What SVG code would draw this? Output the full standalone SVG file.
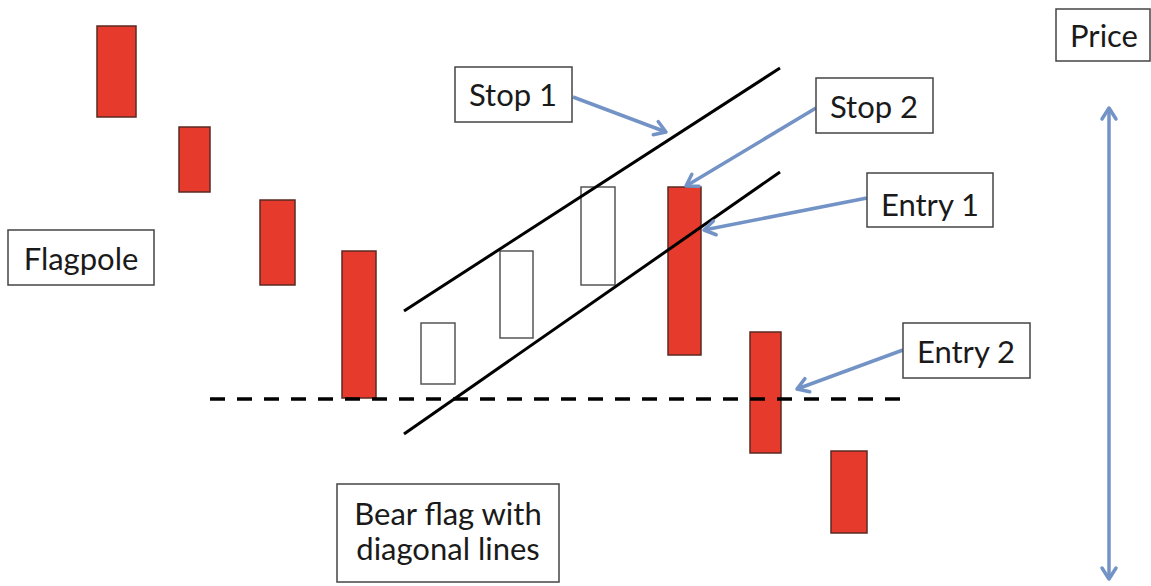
<svg xmlns="http://www.w3.org/2000/svg" width="1151" height="586" viewBox="0 0 1151 586">
<style>
.red{fill:#e63a2c;stroke:#5a2a22;stroke-width:1.5}
.hollow{fill:#ffffff;stroke:#555555;stroke-width:1.5}
.box{fill:#ffffff;stroke:#444444;stroke-width:1.5}
.lbl{font-family:Lato,"Open Sans",sans-serif;font-size:31px;fill:#1a1a1a;text-anchor:middle}
.trend{stroke:#000000;stroke-width:3;fill:none}
.dash{stroke:#000000;stroke-width:3.5;fill:none;stroke-dasharray:15 12}
.arrow{stroke:#7393c6;stroke-width:3.5;fill:none;marker-end:url(#ah)}
</style>
<defs>
<marker id="ah" markerUnits="userSpaceOnUse" viewBox="-14 -9 16 18" refX="0" refY="0" markerWidth="16" markerHeight="18" orient="auto-start-reverse" overflow="visible">
<path d="M -11 -7 L 0 0 L -11 7" fill="none" stroke="#7393c6" stroke-width="3.5" stroke-linecap="round" stroke-linejoin="round"/>
</marker>
</defs>
<rect width="1151" height="586" fill="#ffffff"/>
<g id="candles">
<rect id="c1" class="red" x="97" y="26" width="39" height="91"/>
<rect id="c2" class="red" x="179" y="127" width="31" height="65"/>
<rect id="c3" class="red" x="260" y="200" width="35" height="85"/>
<rect id="c4" class="red" x="342" y="251" width="34" height="147"/>
<rect id="h1" class="hollow" x="421" y="323" width="34" height="61"/>
<rect id="h2" class="hollow" x="500" y="251" width="33" height="87"/>
<rect id="h3" class="hollow" x="581" y="187" width="34" height="98"/>
<rect id="c5" class="red" x="668" y="187" width="33" height="168"/>
<rect id="c6" class="red" x="750" y="332" width="31" height="121"/>
<rect id="c7" class="red" x="831" y="451" width="36" height="82"/>
</g>
<g id="lines">
<line class="trend" x1="404" y1="311" x2="780" y2="68"/>
<line class="trend" x1="404" y1="434" x2="780" y2="172"/>
<line class="dash" x1="210" y1="399" x2="904" y2="399"/>
</g>
<g id="connectors">
<line class="arrow" x1="573" y1="97" x2="666" y2="132"/>
<line class="arrow" x1="816" y1="108" x2="686" y2="186"/>
<line class="arrow" x1="867" y1="198" x2="704" y2="230"/>
<line class="arrow" x1="903" y1="350" x2="797" y2="389"/>
<line class="arrow" x1="1109" y1="108" x2="1109" y2="579" style="marker-start:url(#ah)"/>
</g>
<g id="flagpole">
<rect class="box" x="8" y="230" width="146" height="55"/>
<text class="lbl" x="81" y="270">Flagpole</text>
</g>
<g id="stop1">
<rect class="box" x="455" y="67" width="117" height="55"/>
<text class="lbl" x="513" y="106">Stop 1</text>
</g>
<g id="stop2">
<rect class="box" x="816" y="78" width="117" height="55"/>
<text class="lbl" x="874" y="118">Stop 2</text>
</g>
<g id="entry1">
<rect class="box" x="867" y="173" width="126" height="54"/>
<text class="lbl" x="930" y="216">Entry 1</text>
</g>
<g id="entry2">
<rect class="box" x="903" y="323" width="127" height="55"/>
<text class="lbl" x="966" y="363">Entry 2</text>
</g>
<g id="price">
<rect class="box" x="1056" y="9" width="94" height="52"/>
<text class="lbl" x="1104" y="47">Price</text>
</g>
<g id="bearflag">
<rect class="box" x="337" y="484" width="222" height="98"/>
<text class="lbl" x="448" y="525">Bear flag with</text>
<text class="lbl" x="448" y="560">diagonal lines</text>
</g>
</svg>
